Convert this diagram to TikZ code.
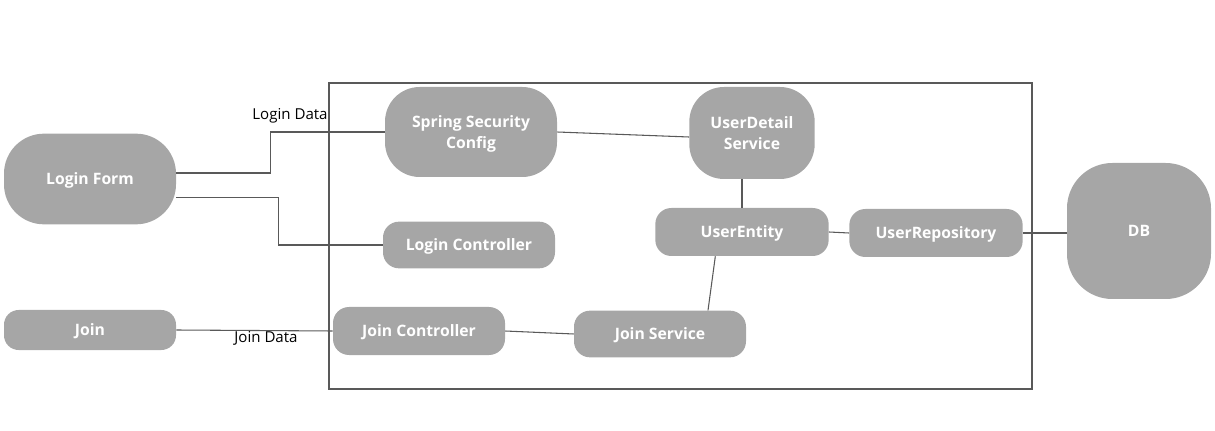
\documentclass[tikz,border=0pt]{standalone}
\usepackage{fontspec}
\setmainfont{Open Sans}
\usetikzlibrary{positioning,calc}
\definecolor{boxgray}{HTML}{A6A6A6}
\definecolor{linegray}{HTML}{595959}

\begin{document}
\begin{tikzpicture}[
    x=0.75pt, y=-0.75pt,
    font=\fontsize{11.5}{14}\selectfont,
    block/.style={
        rectangle, fill=boxgray, text=white,
        font=\fontsize{11.8}{15.5}\selectfont\bfseries,
        align=center, inner sep=0pt, text depth=0pt,
        minimum width=129pt, minimum height=36pt,
        rounded corners=12pt
    },
    link/.style={draw=linegray, line width=0.8pt},
    frame/.style={draw=linegray, line width=0.8pt},
    tag/.style={font=\fontsize{11.3}{13}\selectfont, inner sep=1pt},
]
  \useasboundingbox (0,0) rectangle (1215,431);

  %––– Application frame –––––––––––––––––––––––––––––––––––––
  \draw[frame] (329,83) rectangle (1032,389);

  %––– Clients (outside) –––––––––––––––––––––––––––––––––––––
  \node (login) [block, minimum height=68pt, rounded corners=30pt] at (90,179) {Login Form};
  \node (join)  [block, minimum height=30pt, rounded corners=11pt] at (90,330) {Join};

  %––– Controllers / config ––––––––––––––––––––––––––––––––––
  \node (seccfg) [block, minimum height=67.5pt, rounded corners=26pt] at (471,132) {Spring Security\\Config};
  \node (lctrl)  [block, minimum height=35pt] at (469,245) {Login Controller};
  \node (jctrl)  [block] at (419,331) {Join Controller};
  \node (jsvc)   [block, minimum height=35pt] at (660,334) {Join Service};

  %––– User side –––––––––––––––––––––––––––––––––––––––––––––
  \node (uds)  [block, minimum width=94pt, minimum height=69pt, rounded corners=26pt] at (752,133) {UserDetail\\Service};
  \node (ent)  [block, minimum width=130pt] at (742,232) {UserEntity};
  \node (repo) [block, minimum width=130pt] at (936,233) {UserRepository};
  \node (db)   [block, minimum width=108pt, minimum height=102pt, rounded corners=34pt] at (1139,231) {DB};

  %––– Links –––––––––––––––––––––––––––––––––––––––––––––––––
  \draw[link] ([yshift=4.5pt]login.east) -- ++(94,0) |- (seccfg.west);
  \draw[link] ([yshift=-14pt]login.east) -- ++(102,0) |- (lctrl.west);
  \draw[link] (join.east) -- (jctrl.west);
  \draw[link] (seccfg.east) -- ([yshift=-3pt]uds.west);
  \draw[link] (ent.north |- uds.south) -- (ent.north);
  \draw[link] ([xshift=-20pt]ent.south) -- ([xshift=36pt]jsvc.north);
  \draw[link] (jctrl.east) -- (jsvc.west);
  \draw[link] (ent.east) -- (repo.west);
  \draw[link] (repo.east) -- (db.west |- repo.east);

  %––– Data labels –––––––––––––––––––––––––––––––––––––––––––
  \node (logindata) [tag] at (290,116) {Login Data};
  \node (joindata)  [tag] at (266,338) {Join Data};
\end{tikzpicture}
\end{document}
